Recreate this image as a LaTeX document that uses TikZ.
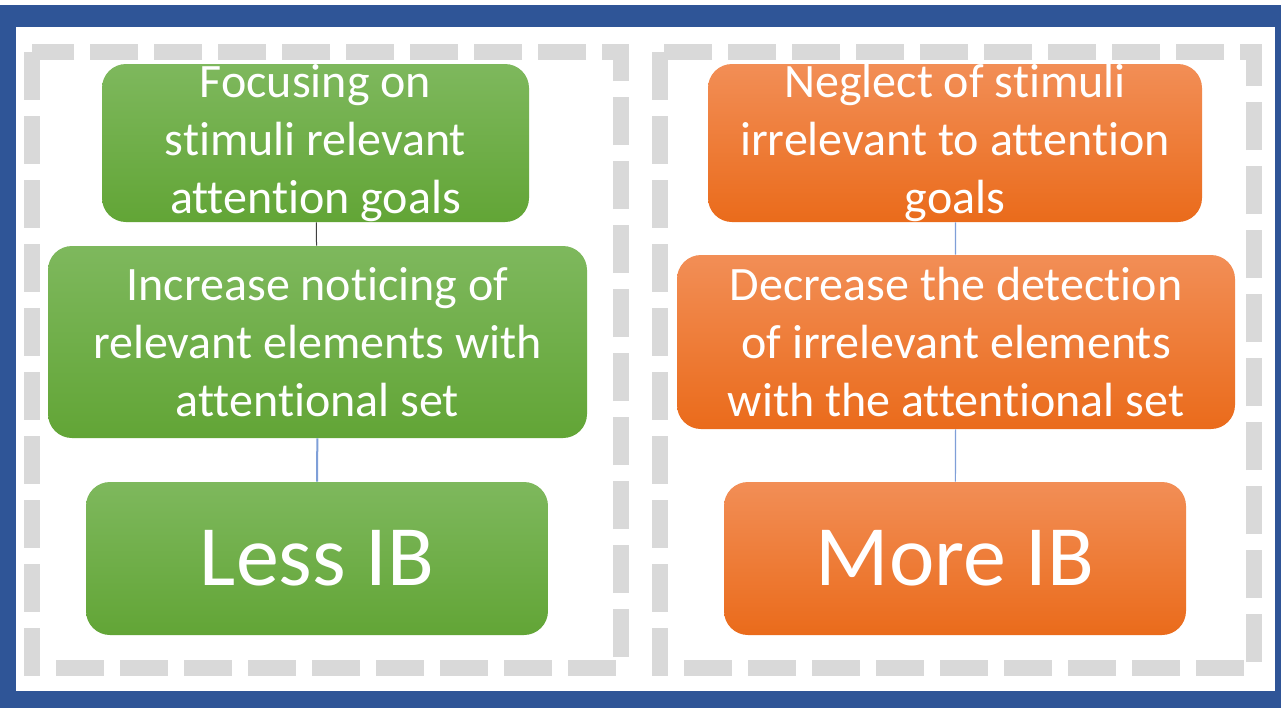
\documentclass[tikz,border=0pt]{standalone}
\usepackage{fontspec}
\setmainfont{Carlito}[Ligatures=NoCommon]
\usetikzlibrary{positioning}
\definecolor{frameblue}{HTML}{2F5597}
\definecolor{dashgray}{HTML}{D9D9D9}
\definecolor{greentop}{HTML}{7EB85D}
\definecolor{greenbot}{HTML}{62A536}
\definecolor{orangetop}{HTML}{F28E56}
\definecolor{orangebot}{HTML}{EA6B1B}
\definecolor{linkblue}{HTML}{7F9FD8}
\definecolor{linkgray}{HTML}{404040}

\begin{document}
\begin{tikzpicture}[x=0.5pt, y=-0.5pt,
  box/.style={rounded corners=12pt, align=center, text=white, inner sep=0pt, font=\fontsize{24}{29}\selectfont},
  greenbox/.style={box, top color=greentop, bottom color=greenbot},
  orangebox/.style={box, top color=orangetop, bottom color=orangebot},
  bigtext/.style={font=\fontsize{43}{50}\selectfont},
  dashbox/.style={draw=dashgray, line width=8pt, dash pattern=on 24pt off 8pt},
  link/.style={draw=linkblue, line width=0.6pt}]
\useasboundingbox (0,0) rectangle (1281,708);
\fill[frameblue] (0,5) rectangle (1281,708);
\fill[white] (16,27) rectangle (1275,691);
\draw[dashbox] (32,52) rectangle (621,668);
\draw[dashbox] (660,52) rectangle (1254,668);

\node[greenbox, minimum width=213.5pt, minimum height=79pt] (focus) at (315.5,143) {Focusing on\\stimuli relevant\\attention goals};
\node[greenbox, minimum width=269.5pt, minimum height=96pt] (notice) at (317.5,342) {Increase noticing of\\relevant elements with\\attentional set};
\node[greenbox, bigtext, minimum width=231pt, minimum height=76.5pt] (less) at (317,558.5) {Less IB};

\node[orangebox, minimum width=247pt, minimum height=79pt] (neglect) at (955,143) {Neglect of stimuli\\irrelevant to attention\\goals};
\node[orangebox, minimum width=279pt, minimum height=87pt] (detect) at (956,342) {Decrease the detection\\of irrelevant elements\\with the attentional set};
\node[orangebox, bigtext, minimum width=231pt, minimum height=76.5pt] (more) at (955,558.5) {More IB};

\draw[draw=linkgray, line width=0.5pt] (focus) -- (notice);
\draw[link, line width=1pt] (notice) -- (less);
\draw[link] (neglect) -- (detect);
\draw[link] (detect) -- (more);
\end{tikzpicture}
\end{document}
